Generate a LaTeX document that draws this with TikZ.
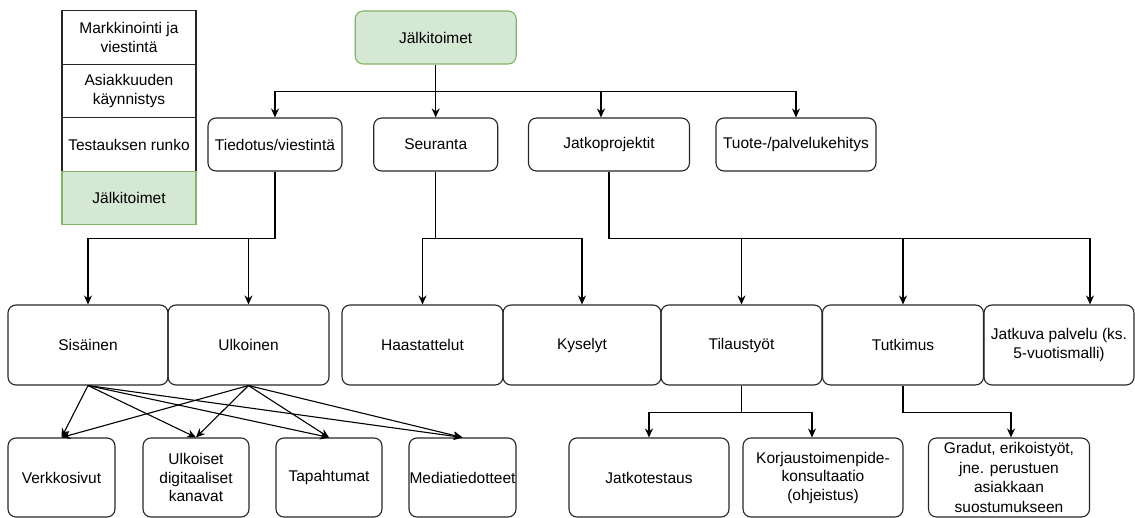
\documentclass[tikz,border=0pt]{standalone}
\usepackage{fontspec}
\setmainfont{Liberation Sans}
\usetikzlibrary{arrows.meta}
\definecolor{mossfill}{HTML}{D5E8D4}
\definecolor{mossline}{HTML}{82B366}

\begin{document}
\begin{tikzpicture}[x=1pt, y=-1pt,
  font=\fontsize{15.5}{18.5}\selectfont,
  box/.style={draw=black!85, line width=1.1pt, rounded corners=8pt,
    align=center, inner sep=0pt},
  legendbox/.style={draw=black!85, line width=1.1pt, align=center,
    inner sep=0pt, minimum width=134pt, minimum height=53.5pt},
  arr/.style={-{Stealth[length=9pt,width=8pt]}, line width=1.1pt},
  wire/.style={line width=1.1pt}]
\useasboundingbox (0,0) rectangle (1135,518);
% legend
\node[legendbox] (lmark) at (129,37.5) {Markkinointi ja\\viestintä};
\node[legendbox] (lasia) at (129,91) {Asiakkuuden\\käynnistys};
\node[legendbox] (ltest) at (129,144.5) {Testauksen runko};
\node[legendbox, fill=mossfill, draw=mossline] (ljalk) at (129,198) {Jälkitoimet};
% top
\node[box, fill=mossfill, draw=mossline, minimum width=161pt, minimum height=53pt]
  (top) at (435.7,37.5) {Jälkitoimet};
% second row
\node[box, minimum width=134pt, minimum height=53pt] (tied) at (275,144.5) {Tiedotus/viestintä};
\node[box, minimum width=124pt, minimum height=53pt] (seur) at (435.7,144.5) {Seuranta};
\node[box, minimum width=161pt, minimum height=53pt] (jatk) at (609,144.5) {Jatkoprojektit};
\node[box, minimum width=160pt, minimum height=53pt] (tuote) at (796,144.5) {Tuote-/palvelukehitys};
% third row
\node[box, minimum width=160pt, minimum height=80pt] (sis) at (88,345) {Sisäinen};
\node[box, minimum width=161pt, minimum height=80pt] (ulk) at (248.5,345) {Ulkoinen};
\node[box, minimum width=161pt, minimum height=80pt] (haas) at (422.5,345) {Haastattelut};
\node[box, minimum width=158pt, minimum height=80pt] (kys) at (582,345) {Kyselyt};
\node[box, minimum width=161pt, minimum height=80pt] (tila) at (741.5,345) {Tilaustyöt};
\node[box, minimum width=161pt, minimum height=80pt] (tutk) at (903,345) {Tutkimus};
\node[box, minimum width=150pt, minimum height=80pt] (jatkuva) at (1059,345)
  {Jatkuva palvelu (ks.\\5-vuotismalli)};
% fourth row
\node[box, minimum width=107pt, minimum height=79pt] (verk) at (61.5,477.5) {Verkkosivut};
\node[box, minimum width=106pt, minimum height=79pt] (ulkd) at (196,477.5) {Ulkoiset\\digitaaliset\\kanavat};
\node[box, minimum width=106pt, minimum height=79pt] (tap) at (329,477.5) {Tapahtumat};
\node[box, minimum width=107pt, minimum height=79pt] (med) at (462.5,477.5) {Mediatiedotteet};
\node[box, minimum width=160pt, minimum height=79pt] (jtest) at (649,477.5) {Jatkotestaus};
\node[box, minimum width=160pt, minimum height=79pt] (korj) at (823,477.5)
  {Korjaustoimenpide-\\konsultaatio\\(ohjeistus)};
\node[box, minimum width=161pt, minimum height=79pt, font=\fontsize{15.5}{19.5}\selectfont]
  (grad) at (1009,477.5) {Gradut, erikoistyöt,\\jne. perustuen\\asiakkaan\\suostumukseen};
% connectors, top level
\draw[wire] (top.south) -- ++(0,27) coordinate (hub);
\draw[arr] (hub) -| (tied.north);
\draw[arr] (hub) -- (seur.north);
\draw[arr] (hub) -| ([xshift=-8pt]jatk.north);
\draw[arr] (hub) -| (tuote.north);
% Tiedotus
\draw[wire] (tied.south) -- ++(0,67) coordinate (tiedhub);
\draw[arr] (tiedhub) -| (sis.north);
\draw[arr] (tiedhub) -| (ulk.north);
% Seuranta
\draw[wire] (seur.south) -- ++(0,67) coordinate (seurhub);
\draw[arr] (seurhub) -| (haas.north);
\draw[arr] (seurhub) -| (kys.north);
% Jatkoprojektit
\draw[wire] (jatk.south) -- ++(0,67) coordinate (jatkhub);
\draw[arr] (jatkhub) -| (tila.north);
\draw[arr] (jatkhub) -| (tutk.north);
\draw[arr] (jatkhub) -| ([xshift=31pt]jatkuva.north);
% Tilaustyot, Tutkimus
\draw[wire] (tila.south) -- ++(0,27) coordinate (tilahub);
\draw[arr] (tilahub) -| (jtest.north);
\draw[arr] (tilahub) -| ([xshift=-11pt]korj.north);
\draw[wire] (tutk.south) -- ++(0,27) coordinate (tutkhub);
\draw[arr] (tutkhub) -| ([xshift=2pt]grad.north);
% channels
\foreach \src in {sis,ulk}
  \foreach \dst in {verk,ulkd,tap,med}
    \draw[arr] (\src.south) -- (\dst.north);
\end{tikzpicture}
\end{document}
